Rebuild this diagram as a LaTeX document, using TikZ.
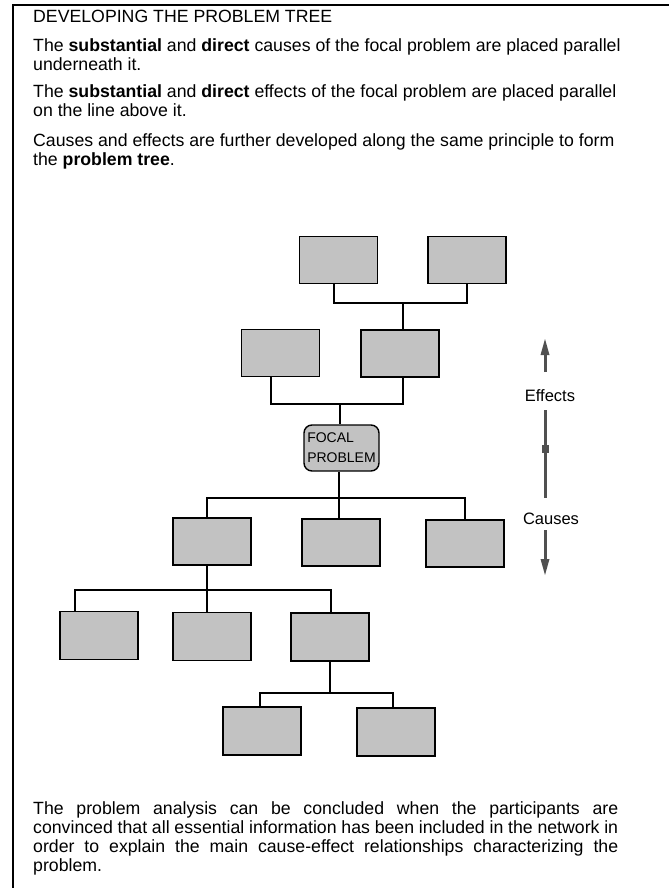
\documentclass[tikz,border=0pt]{standalone}
\usepackage{fontspec}
\setmainfont{Liberation Sans}
\usepackage{xcolor}
\usepackage{tikz}
\usetikzlibrary{arrows.meta}
\definecolor{boxgray}{HTML}{C2C2C2}
\definecolor{arrowgray}{HTML}{505050}
\tikzset{
	txt/.style={inner sep=0pt, font=\fontsize{17.7}{19}\selectfont},
	box/.style={draw, fill=boxgray, line width=1.4pt, minimum width=78pt, minimum height=47pt, inner sep=0pt},
	link/.style={line width=1.3pt},
	flow/.style={draw=arrowgray, line width=3pt},
	tip/.style={-{Triangle[length=17pt, width=8pt]}}
}

\begin{document}
\begin{tikzpicture}[x=1pt, y=-1pt]
        \useasboundingbox (0,0) rectangle (669,888);
        \draw[line width=2pt] (12.5,888) |- (669,5.5);
        % text above the tree
        \node[txt, anchor=base west] (head) at (33,23) {DEVELOPING THE PROBLEM TREE};
        \node[txt, align=left, anchor=base west] (para1) at (33,71) {The \textbf{substantial} and \textbf{direct} causes of the focal problem are placed parallel\\underneath it.};
        \node[txt, align=left, anchor=base west] (para2) at (33,117) {The \textbf{substantial} and \textbf{direct} effects of the focal problem are placed parallel\\on the line above it.};
        \node[txt, align=left, anchor=base west] (para3) at (33,165) {Causes and effects are further developed along the same principle to form\\the \textbf{problem tree}.};
        % effects
        \node[box] (T1) at (338.5,260) {};
        \node[box] (T2) at (467,260) {};
        \node[box] (A) at (280.5,353) {};
        \node[box] (B) at (400,353.5) {};
        % focal problem
        \node[box, rounded corners=8pt, minimum width=75pt, minimum height=46pt, align=left, font=\fontsize{14}{20}\selectfont] (focal) at (341.5,448) {FOCAL\\PROBLEM};
        % causes
        \node[box] (C1) at (212,541.5) {};
        \node[box] (C2) at (341,542.5) {};
        \node[box] (C3) at (465,543.5) {};
        \node[box, minimum height=48pt] (D1) at (99,635.5) {};
        \node[box, minimum height=48pt] (D2) at (212,636.5) {};
        \node[box, minimum height=48pt] (D3) at (330,637) {};
        \node[box, minimum height=48pt] (E1) at (262,731) {};
        \node[box, minimum height=48pt] (E2) at (396,732) {};
        \coordinate (j1) at (403,303);
        \coordinate (j2) at (340,404);
        \coordinate (j3) at (339,498);
        \coordinate (j4) at (207,590);
        \coordinate (j5) at (330,693);
        \draw[link] ([xshift=-4.5pt]T1.south) |- (j1) -| (T2.south);
        \draw[link] (j1) -- (j1 |- B.north);
        \draw[link] ([xshift=-9.5pt]A.south) |- (j2) -| ([xshift=3pt]B.south);
        \draw[link] (j2) -- (j2 |- focal.north);
        \draw[link] (focal.south -| j3) -- (j3);
        \draw[link] ([xshift=-5pt]C1.north) |- (j3) -| (C3.north);
        \draw[link] (j3) -- (j3 |- C2.north);
        \draw[link] ([xshift=-5pt]C1.south) -- (j4);
        \draw[link] ([xshift=-24pt]D1.north) |- (j4) -| ([xshift=1pt]D3.north);
        \draw[link] (j4) -- (j4 |- D2.north);
        \draw[link] (D3.south) -- (j5);
        \draw[link] ([xshift=-2pt]E1.north) |- (j5) -| ([xshift=-3pt]E2.north);
        % direction arrow
        \node[txt, font=\fontsize{16.5}{20}\selectfont] (effects) at (550,396) {Effects};
        \node[txt, font=\fontsize{16.5}{20}\selectfont] (causes) at (551,519) {Causes};
        \node[fill=arrowgray, minimum width=7pt, minimum height=8pt, inner sep=0pt] (mark) at (545,449) {};
        \coordinate (uptip) at (545,338);
        \coordinate (downtip) at (545,576);
        \draw[flow, tip, shorten <=24pt] (effects.center -| uptip) -- (uptip);
        \draw[flow, shorten <=14pt] (effects.center -| mark) -- (mark);
        \draw[flow, shorten >=21pt] (mark) -- (causes.center -| mark);
        \draw[flow, tip, shorten <=11pt] (causes.center -| downtip) -- (downtip);
        % closing text
        \node[txt, text width=585pt, align=justify, anchor=base west] (concl) at (33,814) {The problem analysis can be concluded when the participants are\linebreak convinced that all essential information has been included in the network in\linebreak order to explain the main cause-effect relationships characterizing the\linebreak problem.};
\end{tikzpicture}
\end{document}
